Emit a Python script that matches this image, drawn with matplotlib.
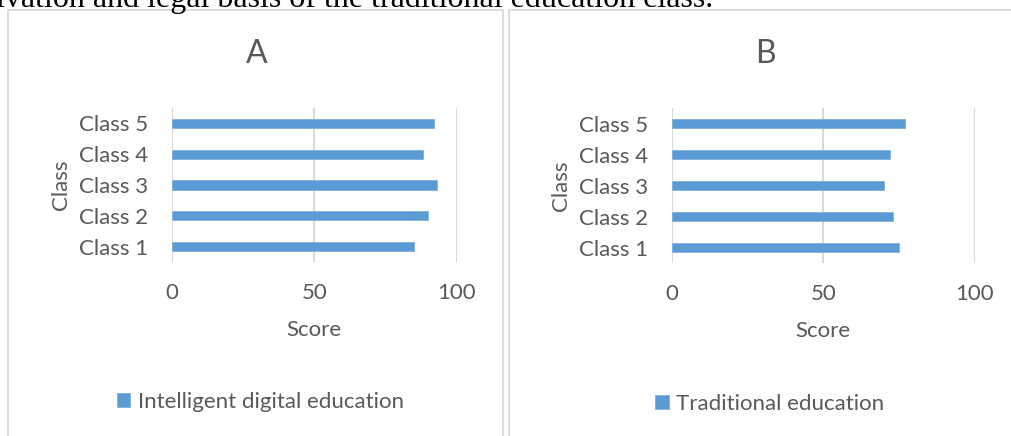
import matplotlib
matplotlib.use("Agg")
import matplotlib.pyplot as plt
from matplotlib.patches import Rectangle

classes = ["Class 1", "Class 2", "Class 3", "Class 4", "Class 5"]
intelligent = [85, 90, 93, 88, 92]
traditional = [75, 73, 70, 72, 77]
x_ticks = [0, 50, 100]

bar_color = "#5b9bd5"
text_color = "#595959"
grid_color = "#d9d9d9"

plt.rcParams['font.family'] = ['Lato', 'DejaVu Sans']

W, H = 1011, 436
fig = plt.figure(figsize=(W / 100, H / 100), dpi=100)


def px(x0, y0, x1, y1):
    # pixel box (top-left origin) -> figure fraction rect
    return [x0 / W, 1 - y1 / H, (x1 - x0) / W, (y1 - y0) / H]


# document text, cut off at the top like in the page screenshot
fig.text(-4 / W, 1 - 7 / H, "ivation and legal basis of the traditional education class.",
         family="Liberation Serif", fontsize=23, color="black", va="baseline", ha="left")

# chart frames
for x0, x1 in [(7.5, 503), (508.5, 1030)]:
    fig.patches.append(Rectangle((x0 / W, -0.1), (x1 - x0) / W, 1.1 - 10.5 / H,
                                 transform=fig.transFigure, fill=False,
                                 edgecolor=grid_color, linewidth=1.3))

ylab_x = {"A": (61 - 171.7) / 285, "B": (561 - 671.7) / 303.3}


def panel(rect, values, title, title_x, legend_label, legend_xy):
    ax = fig.add_axes(rect)
    bars = ax.barh(range(len(classes)), values, height=0.3, color=bar_color,
                   edgecolor="#7fb0de", linewidth=0.6, label=legend_label, zorder=3)
    ax.set_xlim(0, 100)
    ax.set_ylim(-0.5, len(classes) - 0.5)
    ax.set_xticks(x_ticks)
    ax.set_yticks(range(len(classes)))
    ax.set_yticklabels(classes)
    ax.tick_params(axis="both", length=0, labelsize=16, labelcolor=text_color)
    ax.tick_params(axis="x", pad=15)
    ax.tick_params(axis="y", pad=17)
    ax.grid(axis="x", color=grid_color, linewidth=1.5, zorder=0)
    for s in ax.spines.values():
        s.set_visible(False)
    ax.set_xlabel("Score", fontsize=16, color=text_color, va="center")
    ax.xaxis.set_label_coords(0.5, -0.44)
    ax.set_ylabel("Class", fontsize=16, color=text_color, va="center")
    ax.yaxis.set_label_coords(ylab_x[title], 0.5)
    fig.text(title_x / W, 1 - 54 / H, title, fontsize=23, color=text_color,
             ha="center", va="center")
    fig.legend(handles=[bars], labels=[legend_label], loc="center",
               bbox_to_anchor=(legend_xy[0] / W, 1 - legend_xy[1] / H),
               frameon=False, fontsize=16, labelcolor=text_color,
               handlelength=0.6, handleheight=0.6, handletextpad=0.35)
    return ax


panel(px(171.7, 108, 456.7, 262), intelligent, "A", 257,
      "Intelligent digital education", (260.5, 402))
panel(px(671.7, 108, 975, 263), traditional, "B", 765,
      "Traditional education", (770, 404))

fig.savefig("out.png", dpi=100)
